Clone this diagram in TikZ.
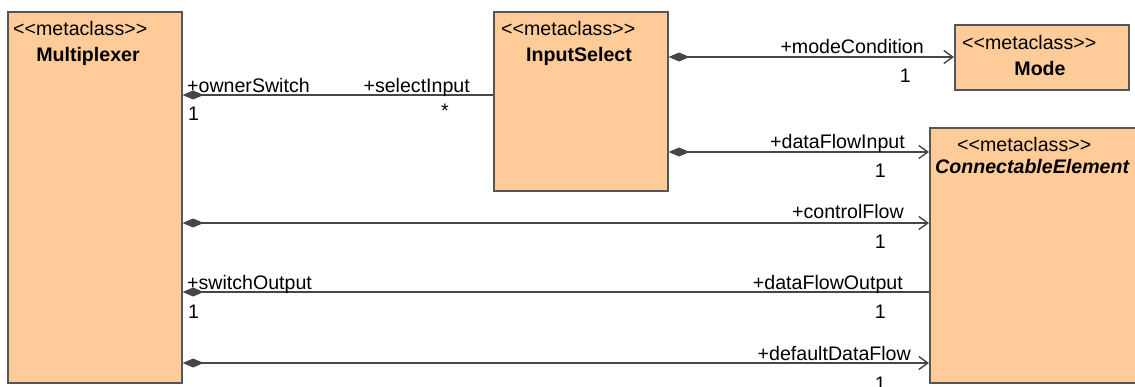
\documentclass[tikz,border=0pt]{standalone}
\usepackage{fontspec}
\setmainfont{Liberation Sans}[Ligatures=TeXOff]
\usetikzlibrary{arrows.meta}
\definecolor{peach}{RGB}{255,204,153}
\definecolor{edge}{RGB}{85,85,85}
\definecolor{wire}{RGB}{70,70,70}
\begin{document}
\begin{tikzpicture}[x=1pt,y=-1pt,
  every node/.style={font=\fontsize{19.6}{23}\selectfont, inner sep=0pt, text=black},
  classbox/.style={draw=edge, fill=peach, line width=1.6pt, inner sep=0pt, anchor=north west},
  wireline/.style={draw=wire, line width=1.5pt},
  comp/.style={wireline, {Diamond[length=21pt,width=9pt,fill=wire]}-},
  compnav/.style={wireline, {Diamond[length=21pt,width=9pt,fill=wire]}-{Straight Barb[length=9pt,width=13pt,line width=1.4pt]}},
  stereo/.style={anchor=base west},
  cname/.style={anchor=base, font=\fontsize{19.6}{23}\selectfont\bfseries},
  role/.style={anchor=base west},
  roler/.style={anchor=base east}]
\clip (0,0) rectangle (1135,386);
\fill[white] (0,0) rectangle (1135,386);
% classes
\node[classbox, minimum width=174pt, minimum height=371pt] (mux) at (7,11) {};
\node[classbox, minimum width=174pt, minimum height=179pt] (isel) at (493,11) {};
\node[classbox, minimum width=174pt, minimum height=65pt] (mode) at (954,24) {};
\node[classbox, minimum width=240pt, minimum height=255pt] (ce) at (929,127) {};
% class texts
\node[stereo] (muxst) at (13,35) {<<metaclass>>};
\node[cname] (muxnm) at (88,61) {Multiplexer};
\node[stereo] (iselst) at (501,35) {<<metaclass>>};
\node[cname] (iselnm) at (579,61) {InputSelect};
\node[stereo] (modest) at (962,49) {<<metaclass>>};
\node[cname] (modenm) at (1040,75) {Mode};
\node[stereo] (cest) at (957,151) {<<metaclass>>};
\node[anchor=base west, font=\fontsize{19.6}{23}\selectfont\bfseries\itshape] (cenm) at (935,173) {ConnectableElement};
% connectors
\draw[comp] (mux.east |- 0,95) -- (isel.west |- 0,95);
\draw[compnav] (isel.east |- 0,57) -- (mode.west |- 0,57);
\draw[compnav] (isel.east |- 0,152) -- (ce.west |- 0,152);
\draw[compnav] (mux.east |- 0,223) -- (ce.west |- 0,223);
\draw[comp] (mux.east |- 0,292) -- (ce.west |- 0,292);
\draw[compnav] (mux.east |- 0,363) -- (ce.west |- 0,363);
% role labels and multiplicities
\node[role] (r1) at (187,92) {+ownerSwitch};
\node[role] (m1) at (188,120) {1};
\node[roler] (r2) at (470,92) {+selectInput};
\node[anchor=base] (m2) at (445,117) {*};
\node[roler] (r3) at (924,53) {+modeCondition};
\node[roler] (m3) at (911,82) {1};
\node[roler] (r4) at (905,148) {+dataFlowInput};
\node[roler] (m4) at (886,177) {1};
\node[roler] (r5) at (904,218) {+controlFlow};
\node[roler] (m5) at (886,248) {1};
\node[role] (r6) at (187,289) {+switchOutput};
\node[role] (m6) at (188,318) {1};
\node[roler] (r7) at (903,289) {+dataFlowOutput};
\node[roler] (m7) at (886,318) {1};
\node[roler] (r8) at (911,360) {+defaultDataFlow};
\node[roler] (m8) at (886,390) {1};
\end{tikzpicture}
\end{document}
